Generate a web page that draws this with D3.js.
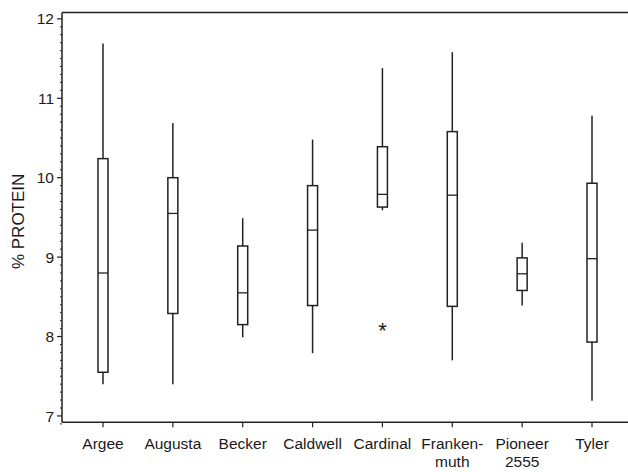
<!DOCTYPE html>
<html>
<head>
<meta charset="utf-8">
<script src="https://cdn.jsdelivr.net/npm/d3@7/dist/d3.min.js"></script>
<style>
  html, body { margin: 0; padding: 0; background: #fff; }
  svg { display: block; }
  text { font-family: "Liberation Sans", Arial, sans-serif; fill: #1a1a1a; }
</style>
</head>
<body>
<svg id="chart" width="628" height="472"></svg>
<script>
// Box plot of % protein by cultivar.
const varieties = ["Argee", "Augusta", "Becker", "Caldwell", "Cardinal", "Franken-\nmuth", "Pioneer\n2555", "Tyler"];
const whiskerLow = [7.40, 7.40, 7.99, 7.79, 9.59, 7.70, 8.39, 7.19];
const q1 = [7.55, 8.29, 8.15, 8.39, 9.63, 8.38, 8.58, 7.93];
const median = [8.80, 9.55, 8.55, 9.34, 9.79, 9.78, 8.79, 8.98];
const q3 = [10.24, 10.00, 9.14, 9.90, 10.39, 10.58, 8.99, 9.93];
const whiskerHigh = [11.69, 10.69, 9.49, 10.48, 11.38, 11.58, 9.18, 10.78];
const outliers = [{ variety: "Cardinal", value: 8.11 }];
const yTicks = [7, 8, 9, 10, 11, 12];

const W = 628, H = 472;
const plotLeft = 62, plotTop = 12.5, plotBottom = 422.3;
const ink = "#222";

const svg = d3.select("#chart");

const x = d3.scalePoint().domain(varieties).range([103, 592]);
const y = d3.scaleLinear().domain([6.92, 12.08]).range([plotBottom, plotTop]);

// Frame: left axis, top and bottom rules (no right edge).
svg.append("line").attr("x1", plotLeft).attr("x2", W).attr("y1", plotTop).attr("y2", plotTop)
  .attr("stroke", ink).attr("stroke-width", 1.5);
svg.append("line").attr("x1", plotLeft).attr("x2", W).attr("y1", plotBottom).attr("y2", plotBottom)
  .attr("stroke", ink).attr("stroke-width", 1.5);

// Y axis with major and minor ticks.
const yAxis = svg.append("g").attr("transform", `translate(${plotLeft},0)`);
yAxis.append("line").attr("x1", 0).attr("x2", 0).attr("y1", plotTop).attr("y2", plotBottom)
  .attr("stroke", ink).attr("stroke-width", 1.5);
const minor = d3.range(69, 121).map((v) => v / 10).filter((v) => !yTicks.includes(v));
yAxis.selectAll("line.minor").data(minor).join("line").attr("class", "minor")
  .attr("x1", -2).attr("x2", 0).attr("y1", (d) => y(d)).attr("y2", (d) => y(d))
  .attr("stroke", ink).attr("stroke-width", 1);
yAxis.selectAll("line.major").data(yTicks).join("line").attr("class", "major")
  .attr("x1", -5).attr("x2", 0).attr("y1", (d) => y(d)).attr("y2", (d) => y(d))
  .attr("stroke", ink).attr("stroke-width", 1.2);
yAxis.selectAll("text").data(yTicks).join("text")
  .attr("x", -8).attr("y", (d) => y(d)).attr("dy", "0.36em")
  .attr("text-anchor", "end").attr("font-size", 15.5)
  .text((d) => d);

svg.append("text")
  .attr("transform", `translate(24,${y(9.45)}) rotate(-90)`)
  .attr("text-anchor", "middle").attr("font-size", 17)
  .text("% PROTEIN");

// X axis ticks and labels.
const xAxis = svg.append("g");
xAxis.selectAll("line").data(varieties).join("line")
  .attr("x1", (d) => x(d)).attr("x2", (d) => x(d))
  .attr("y1", plotBottom).attr("y2", plotBottom + 5)
  .attr("stroke", ink).attr("stroke-width", 1.2);
xAxis.selectAll("text").data(varieties).join("text")
  .attr("x", (d) => x(d)).attr("y", 449)
  .attr("text-anchor", "middle").attr("font-size", 15.5)
  .each(function (d) {
    d.split("\n").forEach((part, i) => {
      d3.select(this).append("tspan").attr("x", x(d)).attr("dy", i ? 17.5 : 0).text(part);
    });
  });

// Boxes.
const boxW = 10;
const rows = varieties.map((v, i) => ({
  v, lo: whiskerLow[i], q1: q1[i], med: median[i], q3: q3[i], hi: whiskerHigh[i],
}));
const box = svg.append("g").selectAll("g").data(rows).join("g");
box.append("line")
  .attr("x1", (d) => x(d.v)).attr("x2", (d) => x(d.v))
  .attr("y1", (d) => y(d.hi)).attr("y2", (d) => y(d.q3))
  .attr("stroke", ink).attr("stroke-width", 1.5);
box.append("line")
  .attr("x1", (d) => x(d.v)).attr("x2", (d) => x(d.v))
  .attr("y1", (d) => y(d.q1)).attr("y2", (d) => y(d.lo))
  .attr("stroke", ink).attr("stroke-width", 1.5);
box.append("rect")
  .attr("x", (d) => x(d.v) - boxW / 2).attr("width", boxW)
  .attr("y", (d) => y(d.q3)).attr("height", (d) => y(d.q1) - y(d.q3))
  .attr("fill", "#fff").attr("stroke", ink).attr("stroke-width", 1.5);
box.append("line")
  .attr("x1", (d) => x(d.v) - boxW / 2).attr("x2", (d) => x(d.v) + boxW / 2)
  .attr("y1", (d) => y(d.med)).attr("y2", (d) => y(d.med))
  .attr("stroke", ink).attr("stroke-width", 1.3);

// Outliers.
svg.append("g").selectAll("text").data(outliers).join("text")
  .attr("x", (d) => x(d.variety)).attr("y", (d) => y(d.value))
  .attr("dy", "0.45em").attr("text-anchor", "middle").attr("font-size", 22)
  .text("*");
</script>
</body>
</html>
